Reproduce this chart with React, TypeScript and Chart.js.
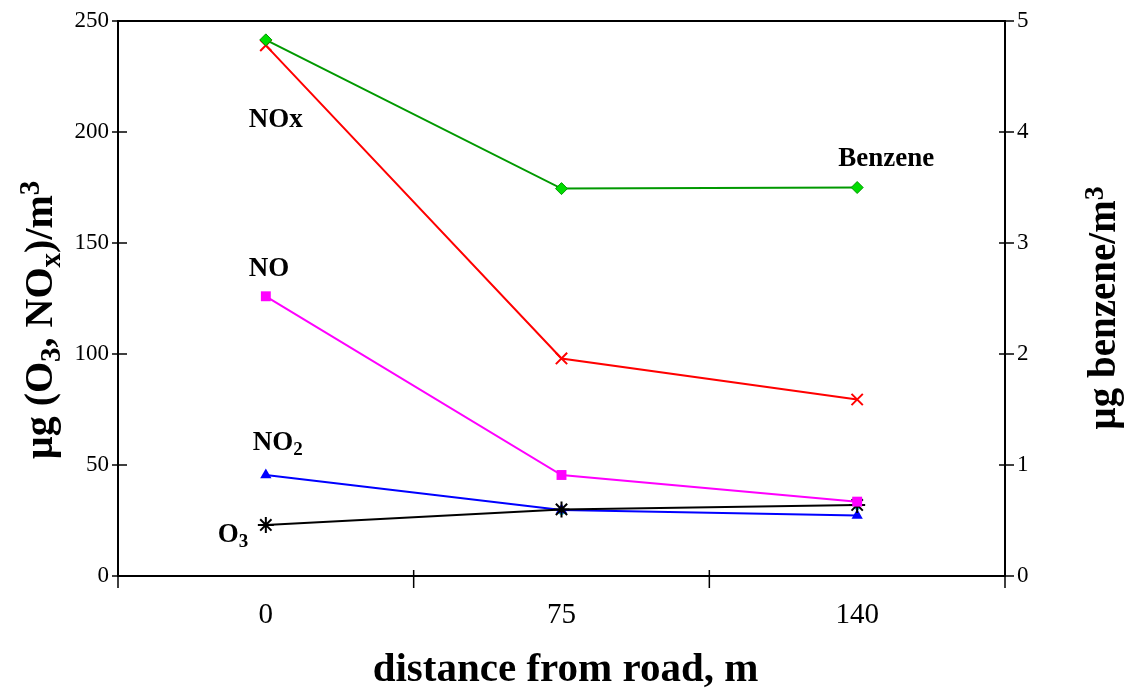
import { useEffect, useRef } from "react";
import { Chart, registerables } from "chart.js";

Chart.register(...registerables);

// Sampling distances from the road (m)
const distances = ["0", "75", "140"];

// Concentrations, µg/m³ (left axis)
const noxValues = [239, 98, 79.5];
const noValues = [126, 45.5, 33.5];
const no2Values = [45.5, 29.7, 27.2];
const o3Values = [23, 30, 32];
const minorValues = [null, 28.6, 30.8];

// Benzene, µg/m³ (right axis)
const benzeneValues = [4.83, 3.49, 3.5];

// Axis ranges and steps
const leftMax = 250;
const leftStep = 50;
const rightMax = 5;
const rightStep = 1;

const SERIF = '"Liberation Serif", "Times New Roman", serif';

type Part = { t: string; s?: "sub" | "sup" };

// Series name annotations, anchored to a category and an axis value
type Note = { parts: Part[]; cat: number; dx: number; value: number; axis: "y" | "y1" };
const notes: Note[] = [
  { parts: [{ t: "NOx" }], cat: 0, dx: -17, value: 202.3, axis: "y" },
  { parts: [{ t: "NO" }], cat: 0, dx: -17, value: 135, axis: "y" },
  { parts: [{ t: "NO" }, { t: "2", s: "sub" }], cat: 0, dx: -13, value: 56.8, axis: "y" },
  { parts: [{ t: "O" }, { t: "3", s: "sub" }], cat: 0, dx: -48, value: 15.3, axis: "y" },
  { parts: [{ t: "Benzene" }], cat: 2, dx: -19, value: 3.69, axis: "y1" },
];

function drawRich(
  ctx: CanvasRenderingContext2D,
  parts: Part[],
  x: number,
  y: number,
  size: number,
  align: "left" | "center"
) {
  ctx.textBaseline = "alphabetic";
  ctx.textAlign = "left";
  const fontFor = (p: Part) =>
    `bold ${p.s ? Math.round(size * 0.72) : size}px ${SERIF}`;
  const widths = parts.map((p) => {
    ctx.font = fontFor(p);
    return ctx.measureText(p.t).width;
  });
  const total = widths.reduce((a, b) => a + b, 0);
  let cx = align === "center" ? x - total / 2 : x;
  parts.forEach((p, i) => {
    ctx.font = fontFor(p);
    const dy = p.s === "sub" ? size * 0.2 : p.s === "sup" ? -size * 0.32 : 0;
    ctx.fillText(p.t, cx, y + dy);
    cx += widths[i];
  });
}

const decorPlugin = {
  id: "decor",
  beforeDatasetsDraw(chart: any) {
    const { ctx, chartArea: a, scales } = chart;
    const x = scales.x;
    ctx.save();
    ctx.strokeStyle = "#000";
    ctx.lineWidth = 2;
    // top frame line
    ctx.beginPath();
    ctx.moveTo(a.left, a.top);
    ctx.lineTo(a.right, a.top);
    ctx.stroke();
    ctx.lineWidth = 1.5;
    // left axis ticks
    scales.y.ticks.forEach((_: any, i: number) => {
      const py = scales.y.getPixelForTick(i);
      ctx.beginPath();
      ctx.moveTo(a.left - 6, py);
      ctx.lineTo(a.left + 9, py);
      ctx.stroke();
    });
    // right axis ticks
    scales.y1.ticks.forEach((_: any, i: number) => {
      const py = scales.y1.getPixelForTick(i);
      ctx.beginPath();
      ctx.moveTo(a.right - 6, py);
      ctx.lineTo(a.right + 9, py);
      ctx.stroke();
    });
    // x ticks at category boundaries
    const n = distances.length;
    const bounds: number[] = [a.left];
    for (let i = 1; i < n; i++) {
      bounds.push((x.getPixelForValue(i - 1) + x.getPixelForValue(i)) / 2);
    }
    bounds.push(a.right);
    bounds.forEach((bx) => {
      ctx.beginPath();
      ctx.moveTo(bx, a.bottom - 6);
      ctx.lineTo(bx, a.bottom + 12);
      ctx.stroke();
    });
    ctx.restore();
  },
  afterDraw(chart: any) {
    const { ctx, chartArea: a, scales } = chart;
    ctx.save();
    ctx.fillStyle = "#000";
    // series labels
    notes.forEach((n) => {
      const px = scales.x.getPixelForValue(n.cat) + n.dx;
      const py = scales[n.axis].getPixelForValue(n.value);
      drawRich(ctx, n.parts, px, py, 27, "left");
    });
    // x axis title
    drawRich(ctx, [{ t: "distance from road, m" }], (a.left + a.right) / 2 + 4, 681, 41, "center");
    // left axis title
    ctx.save();
    ctx.translate(52, 320);
    ctx.rotate(-Math.PI / 2);
    drawRich(
      ctx,
      [
        { t: "µg (O" },
        { t: "3", s: "sub" },
        { t: ", NO" },
        { t: "x", s: "sub" },
        { t: ")/m" },
        { t: "3", s: "sup" },
      ],
      0,
      0,
      40,
      "center"
    );
    ctx.restore();
    // right axis title
    ctx.save();
    ctx.translate(1115, 308);
    ctx.rotate(-Math.PI / 2);
    drawRich(ctx, [{ t: "µg benzene/m" }, { t: "3", s: "sup" }], 0, 0, 39, "center");
    ctx.restore();
    ctx.restore();
  },
};

export default function App() {
  const canvasRef = useRef<HTMLCanvasElement | null>(null);

  useEffect(() => {
    if (!canvasRef.current) return;
    const chart = new Chart(canvasRef.current, {
      type: "line",
      data: {
        labels: distances,
        datasets: [
          {
            label: "Benzene",
            data: benzeneValues,
            yAxisID: "y1",
            borderColor: "#009900",
            backgroundColor: "#00dd00",
            pointBorderColor: "#009900",
            borderWidth: 2,
            pointStyle: "rectRot",
            pointRadius: 6,
            pointBorderWidth: 1,
          },
          {
            label: "NO",
            data: noValues,
            yAxisID: "y",
            borderColor: "#ff00ff",
            backgroundColor: "#ff00ff",
            borderWidth: 2,
            pointStyle: "rect",
            pointRadius: 7,
            pointBorderWidth: 0,
          },
          {
            label: "O3",
            data: o3Values,
            yAxisID: "y",
            borderColor: "#000000",
            backgroundColor: "#000000",
            borderWidth: 2,
            pointStyle: "star",
            pointRadius: 8,
            pointBorderWidth: 2,
          },
          {
            label: "NO2",
            data: no2Values,
            yAxisID: "y",
            borderColor: "#0000ff",
            backgroundColor: "#0000ff",
            borderWidth: 2,
            pointStyle: "triangle",
            pointRadius: 6.5,
            pointBorderWidth: 0,
          },
          {
            label: "minor",
            data: minorValues,
            yAxisID: "y",
            showLine: false,
            borderColor: "#00cccc",
            backgroundColor: "#00cccc",
            pointStyle: "circle",
            pointRadius: 2.5,
            pointBorderWidth: 0,
          },
          {
            label: "NOx",
            data: noxValues,
            yAxisID: "y",
            borderColor: "#ff0000",
            backgroundColor: "#ff0000",
            borderWidth: 2,
            pointStyle: "crossRot",
            pointRadius: 8,
            pointBorderWidth: 2,
          },
        ],
      },
      options: {
        responsive: false,
        animation: false,
        layout: { padding: { top: 21, left: 0, right: 0, bottom: 0 } },
        plugins: {
          legend: { display: false },
          tooltip: { enabled: false },
        },
        elements: { line: { tension: 0 } },
        scales: {
          x: {
            type: "category",
            offset: true,
            grid: { display: false, offset: true },
            border: { display: true, color: "#000", width: 2 },
            ticks: {
              color: "#000",
              font: { family: SERIF, size: 29 },
              padding: 14,
              maxRotation: 0,
            },
            afterFit: (s: any) => {
              s.height = 113;
            },
          },
          y: {
            type: "linear",
            position: "left",
            min: 0,
            max: leftMax,
            grid: { display: false, drawTicks: false },
            border: { display: true, color: "#000", width: 2 },
            ticks: {
              stepSize: leftStep,
              color: "#000",
              font: { family: SERIF, size: 23, lineHeight: 0.7 },
              padding: 9,
            },
            afterFit: (s: any) => {
              s.width = 118;
            },
          },
          y1: {
            type: "linear",
            position: "right",
            min: 0,
            max: rightMax,
            grid: { display: false, drawTicks: false },
            border: { display: true, color: "#000", width: 2 },
            ticks: {
              stepSize: rightStep,
              color: "#000",
              font: { family: SERIF, size: 23, lineHeight: 0.7 },
              padding: 12,
            },
            afterFit: (s: any) => {
              s.width = 121;
            },
          },
        },
      },
      plugins: [decorPlugin],
    } as any);
    return () => chart.destroy();
  }, []);

  return (
    <div style={{ position: "fixed", left: 0, top: 0, width: 1126, height: 689, background: "#fff" }}>
      <canvas ref={canvasRef} width={1126} height={689} style={{ display: "block" }} />
    </div>
  );
}
